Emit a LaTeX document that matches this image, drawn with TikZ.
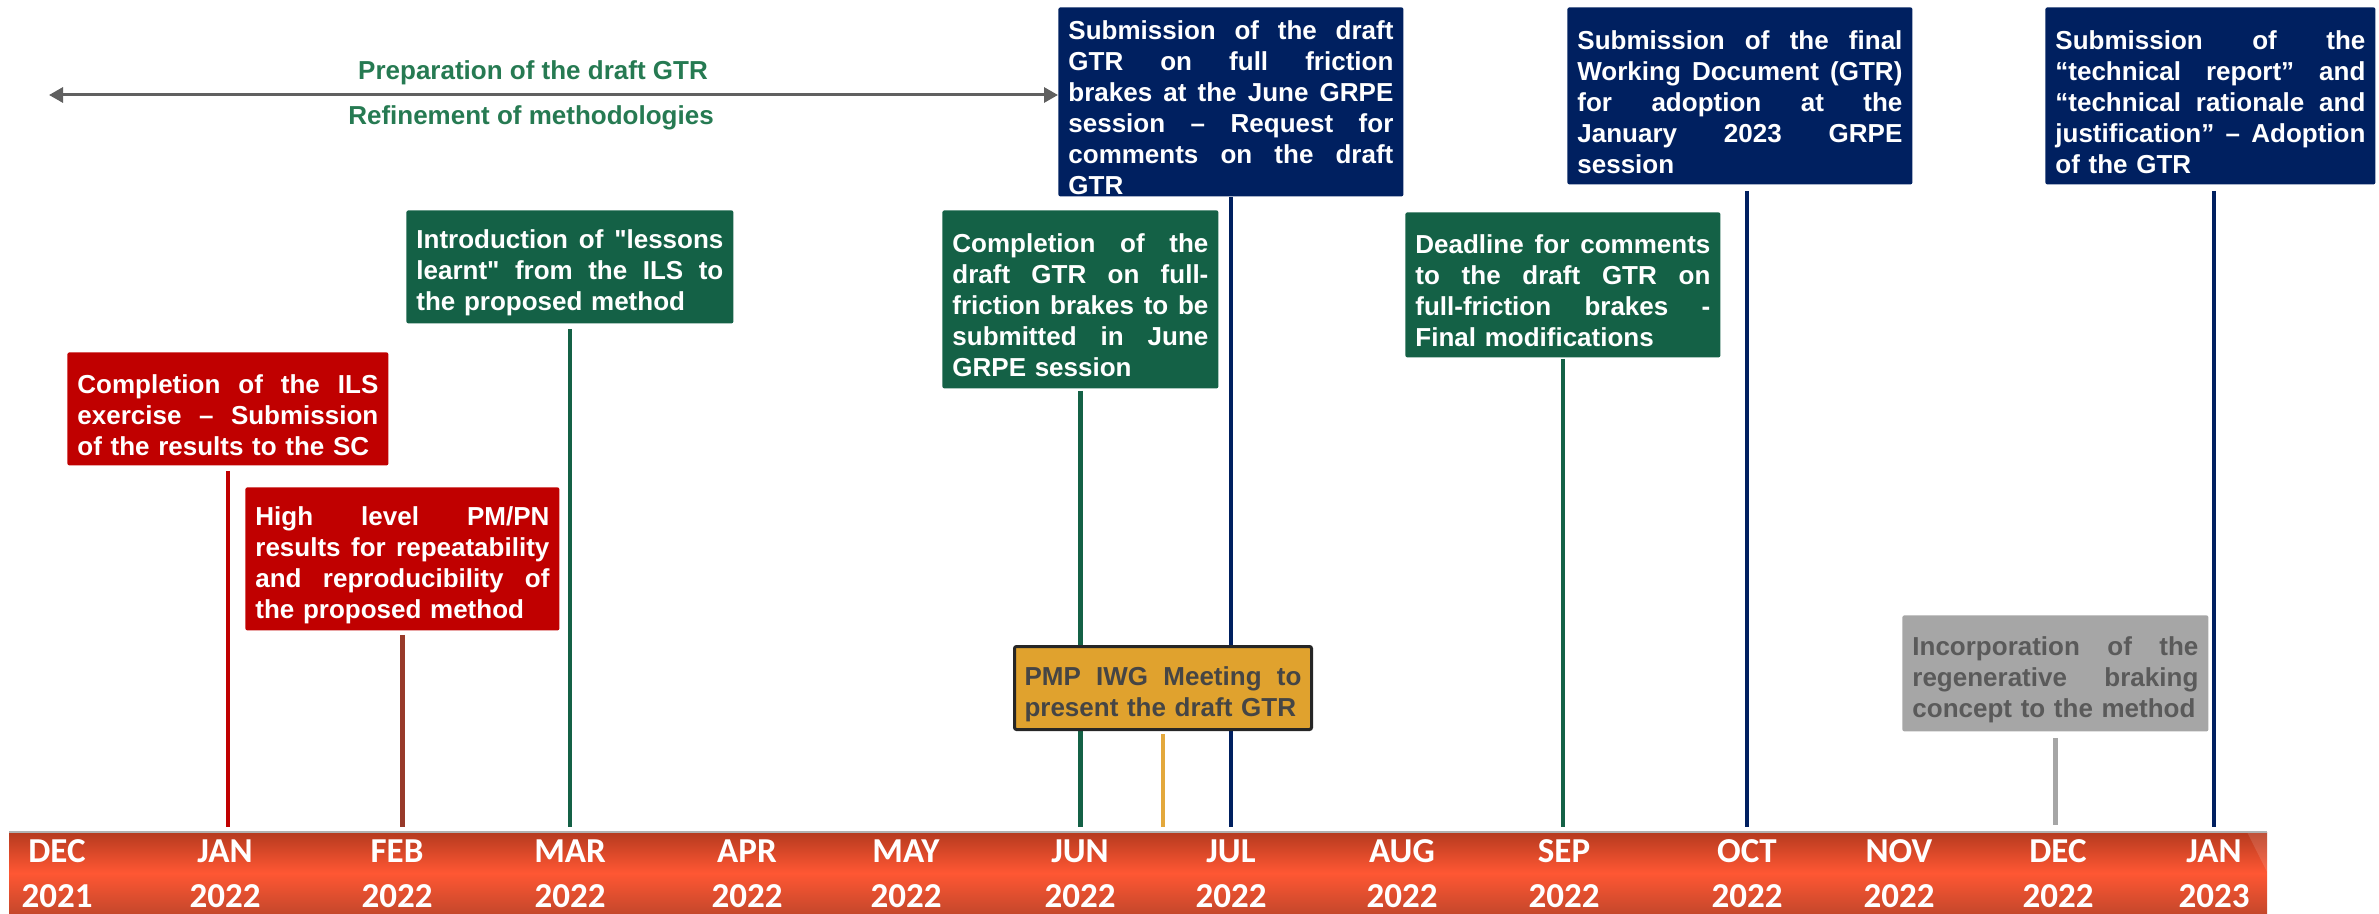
\documentclass[tikz,border=0pt]{standalone}
\usepackage{fontspec}
\setmainfont{Liberation Sans}
\newfontfamily\monthfont{Carlito}
\usetikzlibrary{arrows.meta}
\definecolor{cred}{HTML}{C00000}
\definecolor{cbrown}{HTML}{983A2A}
\definecolor{cgreen}{HTML}{146146}
\definecolor{cnavy}{HTML}{002060}
\definecolor{corange}{HTML}{E0A22E}
\definecolor{corline}{HTML}{E3A83C}
\definecolor{cgray}{HTML}{A6A6A6}
\definecolor{cgraytxt}{HTML}{5A5A5A}
\definecolor{corangetxt}{HTML}{454545}
\definecolor{clabel}{HTML}{267A52}
\definecolor{carrow}{HTML}{606060}
\definecolor{bartop}{HTML}{B53A1F}
\definecolor{barmid}{HTML}{FF5733}
\definecolor{barbot}{HTML}{C4472B}
\newcommand\Jline[1]{\par\noindent\hbox to \bw{\spaceskip=0.278em plus 1fil\relax #1}\par}
\newcommand\Lline[1]{\par\noindent\hbox{#1}\par}
\def\bw{100pt}
\begin{document}
\begin{tikzpicture}[x=0.5pt,y=-0.5pt,
  evbox/.style={anchor=north west, rounded corners=1pt, inner xsep=5pt, inner ysep=0pt,
    font=\bfseries\fontsize{13}{15.5}\selectfont, text=white},
  tw/.style={text width=#1, execute at begin node={\def\bw{#1}}},
  vline/.style={line width=2.3pt},
  month/.style={font=\monthfont\bfseries\fontsize{17.5}{17.5}\selectfont, text=white, inner sep=0pt},
  lbl/.style={font=\bfseries\fontsize{13}{15}\selectfont, text=clabel, inner sep=0pt},
  arr/.style={draw=carrow, line width=1.5pt, {Triangle[length=7pt,width=7.5pt]}-{Triangle[length=7pt,width=7.5pt]}}
]
\useasboundingbox (0,0) rectangle (2379,914);
% timeline bar
\shade[top color=bartop, bottom color=barbot, middle color=barmid] (9,832) rectangle (2267,914);
\fill[white, opacity=0.12] (2247,832) -- (2267,832) -- (2267,872) -- cycle;
\draw[gray!60, line width=0.6pt] (9,832) -- (2267,832);
\coordinate (bt) at (0,827);
\foreach \i/\x/\m/\yr in {0/57/DEC/2021, 1/225/JAN/2022, 2/397/FEB/2022, 3/570/MAR/2022,
  4/747/APR/2022, 5/906/MAY/2022, 6/1080/JUN/2022, 7/1231/JUL/2022, 8/1402/AUG/2022,
  9/1564/SEP/2022, 10/1747/OCT/2022, 11/1899/NOV/2022, 12/2058/DEC/2022, 13/2214/JAN/2023}{
  \node[month] (m\i) at (\x,851) {\m};
  \node[month] (y\i) at (\x,896) {\yr};
}
% arrow and labels
\node[evbox, fill=cnavy, tw=162.5pt, minimum height=94.5pt] (jul) at (1058,7)
 {\Jline{Submission of the draft}\Jline{GTR on full friction}\Jline{brakes at the June GRPE}\Jline{session – Request for}\Jline{comments on the draft}\Lline{GTR}};
\coordinate (arrL) at (49,95);
\draw[arr] (arrL) -- (arrL -| jul.west);
\node[lbl] (prep) at (533,73) {Preparation of the draft GTR};
\node[lbl] (refn) at (531,118) {Refinement of methodologies};
% boxes
\node[evbox, fill=cred, tw=150.5pt, minimum height=56.5pt] (red1) at (67,352)
 {\Jline{Completion of the ILS}\Jline{exercise – Submission}\Lline{of the results to the SC}};
\node[evbox, fill=cred, tw=147pt, minimum height=71.5pt] (red2) at (245,487)
 {\Jline{High level PM/PN}\Jline{results for repeatability}\Jline{and reproducibility of}\Lline{the proposed method}};
\node[evbox, fill=cgreen, tw=153.5pt, minimum height=56.5pt] (mar) at (406,210)
 {\Jline{Introduction of \textquotedbl lessons}\Jline{learnt\textquotedbl{} from the ILS to}\Lline{the proposed method}};
\node[evbox, fill=cgreen, tw=128pt, minimum height=89pt] (jun) at (942,210)
 {\Jline{Completion of the}\Jline{draft GTR on full-}\Jline{friction brakes to be}\Jline{submitted in June}\Lline{GRPE session}};
\node[evbox, fill=cgreen, tw=147.5pt, minimum height=72.5pt] (sep) at (1405,212)
 {\Jline{Deadline for comments}\Jline{to the draft GTR on}\Jline{full-friction brakes -}\Lline{Final modifications}};
\node[evbox, fill=cnavy, tw=162.5pt, minimum height=88.5pt] (oct) at (1567,7)
 {\Jline{Submission of the final}\Jline{Working Document (GTR)}\Jline{for adoption at the}\Jline{January 2023 GRPE}\Lline{session}};
\node[evbox, fill=cnavy, tw=155pt, minimum height=88.5pt] (jan) at (2045,7)
 {\Jline{Submission of the}\Jline{“technical report” and}\Jline{“technical rationale and}\Jline{justification” – Adoption}\Lline{of the GTR}};
\node[evbox, fill=cgray, text=cgraytxt, tw=143pt, minimum height=58pt] (dec) at (1902,615)
 {\Jline{Incorporation of the}\Jline{regenerative braking}\Lline{concept to the method}};
% vertical connectors
\draw[vline, cred, shorten <=2.5pt] (red1.south) -- (red1.south |- bt);
\draw[vline, cbrown, shorten <=2pt] (red2.south) -- (red2.south |- bt);
\draw[vline, cgreen, shorten <=2.5pt] (mar.south) -- (mar.south |- bt);
\draw[vline, cgreen, shorten <=1pt] (jun.south) -- (jun.south |- bt);
\draw[vline, cnavy] (jul.south) -- (jul.south |- bt);
\draw[vline, cgreen, shorten <=0.5pt] (sep.south) -- (sep.south |- bt);
\draw[vline, cnavy, shorten <=3pt] (m10 |- oct.south) -- (m10 |- bt);
\draw[vline, cnavy, shorten <=3pt] (m13 |- jan.south) -- (m13 |- bt);
\draw[vline, cgray, shorten <=3pt, shorten >=1pt] (dec.south) -- (dec.south |- bt);
% orange box on top of the lines
\node[evbox, fill=corange, draw=black!85, line width=1.5pt, text=corangetxt, tw=138.5pt, minimum height=41.5pt] (pmp) at (1013,645)
 {\Jline{PMP IWG Meeting to}\Lline{present the draft GTR}};
\draw[vline, corline, shorten <=1.5pt] (pmp.south) -- (pmp.south |- bt);
\end{tikzpicture}
\end{document}
